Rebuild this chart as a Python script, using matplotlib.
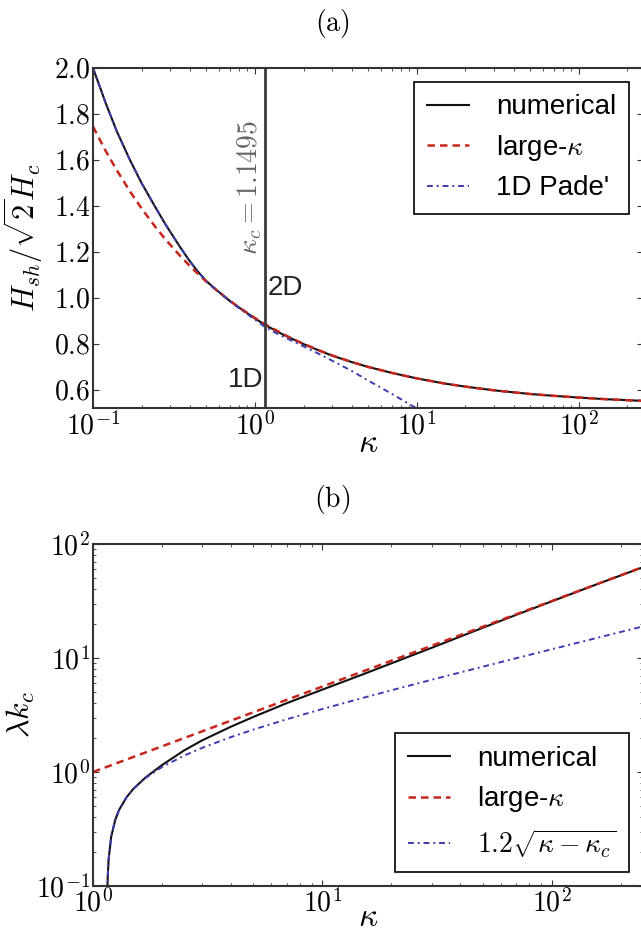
import matplotlib
matplotlib.use("Agg")
import matplotlib.pyplot as plt

plt.rcParams['font.family'] = ['Liberation Sans', 'DejaVu Sans']
plt.rcParams['mathtext.fontset'] = 'cm'

# ---- panel (a): superheating field vs kappa ----
KAPPA_C = 1.1495

kappa_a = [0.1, 0.12, 0.14, 0.169, 0.2, 0.241, 0.28, 0.344, 0.39, 0.436, 0.5, 0.581,
           0.7, 0.807, 1.0, 1.1495, 1.3, 1.5, 1.75, 2, 2.5, 3, 4, 5, 7, 10, 15, 20,
           30, 50, 70, 100, 150, 250]
hsh_numerical = [2.000, 1.846, 1.726, 1.600, 1.498, 1.398, 1.320, 1.222, 1.166, 1.121,
                 1.073, 1.033, 0.986, 0.955, 0.910, 0.883, 0.862, 0.839, 0.817, 0.798,
                 0.770, 0.748, 0.719, 0.699, 0.673, 0.649, 0.626, 0.613, 0.597, 0.581,
                 0.573, 0.5655, 0.558, 0.551]
hsh_large_kappa = [1.745, 1.638, 1.556, 1.4635, 1.388, 1.311, 1.2545, 1.1834, 1.1435,
                   1.110, 1.071, 1.032, 0.987, 0.9556, 0.912, 0.886, 0.865, 0.841, 0.818,
                   0.799, 0.7705, 0.749, 0.7195, 0.699, 0.673, 0.649, 0.626, 0.613,
                   0.597, 0.581, 0.573, 0.5655, 0.558, 0.551]

kappa_pade = [0.1, 0.12, 0.14, 0.169, 0.2, 0.241, 0.28, 0.344, 0.39, 0.436, 0.5, 0.581,
              0.7, 0.807, 1.0, 1.1495, 1.3, 1.5, 1.75, 2, 2.5, 3, 4, 5, 7, 10]
hsh_pade = [2.000, 1.846, 1.726, 1.600, 1.498, 1.398, 1.320, 1.222, 1.166, 1.121,
            1.073, 1.033, 0.985, 0.952, 0.905, 0.874, 0.852, 0.830, 0.808, 0.788,
            0.755, 0.726, 0.680, 0.640, 0.582, 0.518]

yticks_a = [0.6, 0.8, 1.0, 1.2, 1.4, 1.6, 1.8, 2.0]
xticks_a = [0.1, 1, 10, 100]
xticklabels_a = [r'$10^{-1}$', r'$10^{0}$', r'$10^{1}$', r'$10^{2}$']

# ---- panel (b): lambda k_c vs kappa ----
kappa_b = [1.155, 1.16, 1.17, 1.2, 1.25, 1.3, 1.4, 1.5, 1.7, 2.0, 2.5, 3, 4, 5, 7,
           10, 15, 20, 30, 50, 70, 100, 150, 250]
lk_numerical = [0.09, 0.123, 0.172, 0.270, 0.380, 0.466, 0.600, 0.712, 0.900, 1.15,
                1.55, 1.90, 2.50, 3.04, 4.02, 5.28, 7.18, 8.98, 12.3, 18.4, 23.9,
                31.4, 42.8, 62.6]
lk_sqrt = [0.089, 0.123, 0.172, 0.270, 0.380, 0.466, 0.601, 0.710, 0.890, 1.107,
           1.395, 1.632, 2.026, 2.355, 2.902, 3.570, 4.466, 5.210, 6.446, 8.387,
           9.957, 11.93, 14.64, 18.93]
kappa_large = [1, 2, 5, 10, 20, 50, 100, 250]
lk_large_kappa = [1.0, 1.68, 3.34, 5.62, 9.46, 18.8, 31.6, 62.9]

xticks_b = [1, 10, 100]
xticklabels_b = [r'$10^{0}$', r'$10^{1}$', r'$10^{2}$']
yticks_b = [0.1, 1, 10, 100]
yticklabels_b = [r'$10^{-1}$', r'$10^{0}$', r'$10^{1}$', r'$10^{2}$']

BLACK = '#111111'
RED = '#c8261c'
BLUE = '#3c3cae'
SPINE = '#333333'
FS = 20

W, H = 641, 935
fig = plt.figure(figsize=(W / 100, H / 100), dpi=100)
ax1 = fig.add_axes([93 / W, 1 - 408 / H, 550 / W, 340 / H])
ax2 = fig.add_axes([93 / W, 1 - 886 / H, 550 / W, 342 / H])


def style_axes(ax):
    for sp in ax.spines.values():
        sp.set_color(SPINE)
        sp.set_linewidth(1.5)
    ax.tick_params(which='both', direction='in', top=True, right=True,
                   color=SPINE, labelsize=FS)
    ax.tick_params(which='major', length=4, width=0.8, pad=3)
    ax.tick_params(which='minor', length=2, width=0.6)


def add_legend(ax, loc):
    leg = ax.legend(loc=loc, fontsize=FS, fancybox=False, framealpha=1,
                    edgecolor='black', handlelength=1.5, handletextpad=1.0,
                    borderpad=0.45, labelspacing=0.45)
    leg.get_frame().set_linewidth(1.2)
    return leg


# panel (a)
ax1.plot(kappa_a, hsh_numerical, color=BLACK, lw=1.5, label='numerical')
ax1.plot(kappa_a, hsh_large_kappa, color=RED, lw=1.8, dashes=(3, 2),
         label=r'large-$\kappa$')
ax1.plot(kappa_pade, hsh_pade, color=BLUE, lw=1.4, dashes=(3, 2, 1, 2),
         label="1D Pade'")
ax1.axvline(KAPPA_C, color='#3a3a3a', lw=2.0)
ax1.set_xscale('log')
ax1.set_xlim(0.1, 250)
ax1.set_ylim(0.52, 2.0)
ax1.set_xticks(xticks_a, labels=xticklabels_a)
ax1.set_yticks(yticks_a, labels=[f'${v:.1f}$' for v in yticks_a])
style_axes(ax1)
ax1.tick_params(axis='y', pad=2)
ax1.set_xlabel(r'$\kappa$', fontsize=24, labelpad=-9)
ax1.set_ylabel(r'$H_{sh}/\sqrt{2}H_c$', fontsize=22)
ax1.yaxis.set_label_coords(-0.088, 0.5)
ax1.text(KAPPA_C / 1.012, 1.48, r'$\kappa_c = 1.1495$', rotation=90, ha='right',
         va='center', fontsize=FS, color='#666666')
ax1.text(KAPPA_C * 1.045, 1.043, '2D', ha='left', va='center', fontsize=FS,
         color='#222222')
ax1.text(KAPPA_C / 1.02, 0.643, '1D', ha='right', va='center', fontsize=FS,
         color='#222222')
add_legend(ax1, 'upper right')

# panel (b)
ax2.plot(kappa_b, lk_numerical, color=BLACK, lw=1.5, label='numerical')
ax2.plot(kappa_large, lk_large_kappa, color=RED, lw=1.8, dashes=(3, 2),
         label=r'large-$\kappa$')
ax2.plot(kappa_b, lk_sqrt, color=BLUE, lw=1.4, dashes=(3, 2, 1, 2),
         label=r'$1.2\sqrt{\kappa-\kappa_c}$')
ax2.set_xscale('log')
ax2.set_yscale('log')
ax2.set_xlim(1, 250)
ax2.set_ylim(0.1, 100)
ax2.set_xticks(xticks_b, labels=xticklabels_b)
ax2.set_yticks(yticks_b, labels=yticklabels_b)
style_axes(ax2)
ax2.tick_params(axis='y', pad=2)
ax2.tick_params(axis='x', pad=2)
ax2.set_xlabel(r'$\kappa$', fontsize=24, labelpad=-11)
ax2.set_ylabel(r'$\lambda k_c$', fontsize=23)
ax2.yaxis.set_label_coords(-0.102, 0.5)
add_legend(ax2, 'lower right')

fig.text(332 / W, 1 - 24 / H, r'$(\mathrm{a})$', ha='center', va='center', fontsize=FS)
fig.text(332 / W, 1 - 500 / H, r'$(\mathrm{b})$', ha='center', va='center', fontsize=FS)

fig.savefig('out.png', dpi=100, facecolor='white')
